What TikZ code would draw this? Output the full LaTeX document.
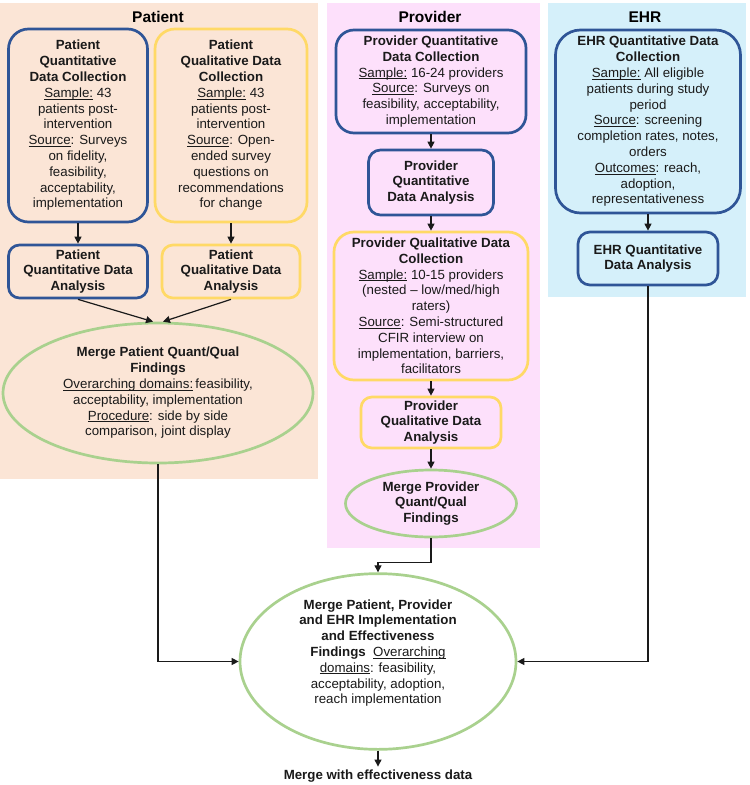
\documentclass[tikz,border=0pt]{standalone}
\usepackage{fontspec}
\setmainfont{Liberation Sans}
\usetikzlibrary{arrows.meta,shapes.geometric}
\definecolor{peach}{HTML}{FBE5D6}
\definecolor{pinkbg}{HTML}{FDE0FB}
\definecolor{bluebg}{HTML}{D5F0FA}
\definecolor{bborder}{HTML}{2F5597}
\definecolor{yborder}{HTML}{FFD966}
\definecolor{gborder}{HTML}{A9D18E}
\definecolor{ink}{HTML}{1A1A1A}
\newcommand{\ul}[1]{\setbox0\hbox{#1}\rlap{\rule[-1.9pt]{\wd0}{0.7pt}}\box0\relax}
\tikzset{
  txt/.style={align=center, text=ink, inner sep=0pt, font=\fontsize{13.3}{15.8}\selectfont},
  bluebox/.style={txt, draw=bborder, line width=2.7pt, rectangle},
  yelbox/.style={txt, draw=yborder, line width=2.7pt, rectangle},
  greenell/.style={txt, draw=gborder, line width=2.7pt, ellipse},
  boldtxt/.style={font=\fontsize{13.3}{15.8}\selectfont\bfseries},
  title/.style={text=black, font=\fontsize{15.5}{18}\selectfont\bfseries, inner sep=0pt},
  arr/.style={draw=ink, line width=1.2pt, -{Triangle[length=7pt,width=7pt]}}
}
\begin{document}
\begin{tikzpicture}[x=1pt,y=-1pt]
\fill[white] (0,0) rectangle (750,785);
\useasboundingbox (0,0) rectangle (750,785);
% panels
\fill[peach] (0,3) rectangle (318,479);
\fill[pinkbg] (327,3) rectangle (540,548);
\fill[bluebg] (548,3) rectangle (746,297);
% titles
\node[title] (tpat) at (158,17) {Patient};
\node[title] (tprov) at (430,17) {Provider};
\node[title] (tehr) at (645,17) {EHR};
% patient column
\node[bluebox, rounded corners=20pt, minimum width=139pt, minimum height=193pt] (pqc) at (78,125.5)
 {\textbf{Patient}\\\textbf{Quantitative}\\\textbf{Data Collection}\\\ul{Sample:} 43\\patients post-\\intervention\\\ul{Source}: Surveys\\on fidelity,\\feasibility,\\acceptability,\\implementation};
\node[yelbox, rounded corners=20pt, minimum width=152pt, minimum height=193pt] (plc) at (231,125.5)
 {\textbf{Patient}\\\textbf{Qualitative Data}\\\textbf{Collection}\\\ul{Sample:} 43\\patients post-\\intervention\\\ul{Source}: Open-\\ended survey\\questions on\\recommendations\\for change};
\node[bluebox, boldtxt, rounded corners=11pt, minimum width=139pt, minimum height=53pt] (pqa) at (78,271.5)
 {Patient\\Quantitative Data\\Analysis};
\node[yelbox, boldtxt, rounded corners=11pt, minimum width=138pt, minimum height=53pt] (pla) at (231,271.5)
 {Patient\\Qualitative Data\\Analysis};
\node[greenell, minimum width=310pt, minimum height=140pt] (pm) at (158,393)
 {\textbf{Merge Patient Quant/Qual}\\\textbf{Findings}\\\ul{Overarching domains:}\,feasibility,\\acceptability, implementation\\\ul{Procedure}: side by side\\comparison, joint display};
% provider column
\node[bluebox, rounded corners=18pt, minimum width=190pt, minimum height=103pt] (vqc) at (431,81.5)
 {\textbf{Provider Quantitative}\\\textbf{Data Collection}\\\ul{Sample:} 16-24 providers\\\ul{Source}: Surveys on\\feasibility, acceptability,\\implementation};
\node[bluebox, boldtxt, rounded corners=12pt, minimum width=125pt, minimum height=65pt] (vqa) at (431,182.5)
 {Provider\\Quantitative\\Data Analysis};
\node[yelbox, rounded corners=20pt, minimum width=194pt, minimum height=148pt] (vlc) at (431,306)
 {\textbf{Provider Qualitative Data}\\\textbf{Collection}\\\ul{Sample:} 10-15 providers\\(nested -- low/med/high\\raters)\\\ul{Source}: Semi-structured\\CFIR interview on\\implementation, barriers,\\facilitators};
\node[yelbox, boldtxt, rounded corners=11pt, minimum width=140pt, minimum height=51pt] (vla) at (431,422.5)
 {Provider\\Qualitative Data\\Analysis};
\node[greenell, boldtxt, minimum width=171pt, minimum height=67pt] (vm) at (431,503.5)
 {Merge Provider\\Quant/Qual\\Findings};
% EHR column
\node[bluebox, rounded corners=25pt, minimum width=185pt, minimum height=183pt] (eqc) at (648,121.5)
 {\textbf{EHR Quantitative Data}\\\textbf{Collection}\\\ul{Sample:} All eligible\\patients during study\\period\\\ul{Source}: screening\\completion rates, notes,\\orders\\\ul{Outcomes}: reach,\\adoption,\\representativeness};
\node[bluebox, boldtxt, rounded corners=12pt, minimum width=140pt, minimum height=53pt] (eqa) at (648,258.5)
 {EHR Quantitative\\Data Analysis};
% final merge
\node[greenell, minimum width=276pt, minimum height=151pt] (big) at (378,661.5)
 {\textbf{Merge Patient, Provider}\\\textbf{and EHR Implementation}\\\textbf{and Effectiveness}\\\textbf{Findings}\ \ \ul{Overarching}\\\ul{domains}: feasibility,\\acceptability, adoption,\\reach implementation\\[4pt]};
\node[txt, boldtxt, inner sep=3pt] (fin) at (378,776) {Merge with effectiveness data};
% connectors
\draw[arr] (pqc) -- (pqa);
\draw[arr] (plc) -- (pla);
\draw[arr] (pqa.south) -- ([xshift=-5pt]pm.north);
\draw[arr] (pla.south) -- ([xshift=5pt]pm.north);
\draw[arr] (vqc) -- (vqa);
\draw[arr] (vqa) -- (vlc);
\draw[arr] (vlc) -- (vla);
\draw[arr] (vla) -- (vm);
\draw[arr] (eqc) -- (eqa);
\draw[arr] (pm.south) |- (big.west);
\draw[arr] (eqa.south) |- (big.east);
\draw[arr] (vm.south) -- ++(0,24) -| (big.north);
\draw[arr] (big.south) -- (fin.north);
\end{tikzpicture}
\end{document}
